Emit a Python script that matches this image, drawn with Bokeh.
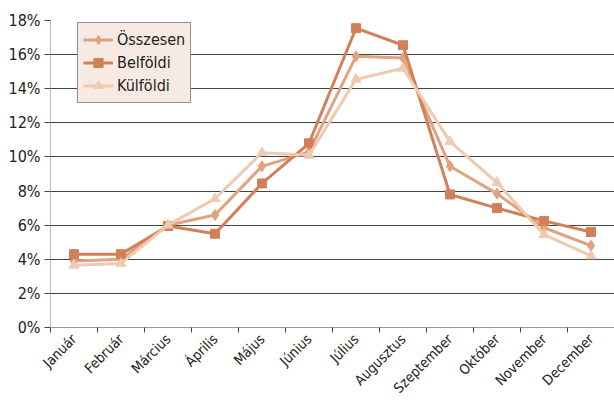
from math import pi
from bokeh.plotting import figure
from bokeh.models import FixedTicker, PrintfTickFormatter, Range1d, Legend, LegendItem
from bokeh.embed import file_html
from bokeh.resources import INLINE

months = ["Január", "Február", "Március", "Április", "Május", "Június", "Július",
          "Augusztus", "Szeptember", "Október", "November", "December"]
osszesen = [3.9, 4.0, 6.0, 6.6, 9.45, 10.3, 15.9, 15.8, 9.45, 7.85, 5.85, 4.8]
belfoldi = [4.3, 4.3, 5.95, 5.5, 8.45, 10.8, 17.55, 16.55, 7.8, 7.0, 6.25, 5.6]
kulfoldi = [3.65, 3.75, 6.0, 7.55, 10.25, 10.1, 14.55, 15.2, 10.9, 8.5, 5.45, 4.2]
y_ticks = [0, 2, 4, 6, 8, 10, 12, 14, 16, 18]

x = [i + 0.5 for i in range(len(months))]
FONT = "DejaVu Sans Condensed"

p = figure(width=614, height=404, output_backend="svg", toolbar_location=None,
           x_range=Range1d(0, 12), y_range=Range1d(0, 18),
           min_border_left=50, min_border_right=0, min_border_top=20, min_border_bottom=73)
p.outline_line_color = None
p.background_fill_color = "white"

p.xaxis.ticker = FixedTicker(ticks=x, minor_ticks=list(range(13)))
p.xaxis.major_label_overrides = {xi: m for xi, m in zip(x, months)}
p.xaxis.major_label_orientation = pi / 4
p.xaxis.major_tick_line_color = None
p.xaxis.major_tick_out = 0
p.xaxis.major_tick_in = 0
p.xaxis.minor_tick_line_color = "#444444"
p.xaxis.minor_tick_out = 5
p.xaxis.minor_tick_in = 0
p.xaxis.axis_line_color = "#999999"
p.xaxis.major_label_text_font = FONT
p.xaxis.major_label_text_font_size = "14px"
p.xaxis.major_label_text_color = "#222222"
p.xaxis.major_label_standoff = 4

p.yaxis.ticker = FixedTicker(ticks=y_ticks)
p.yaxis.formatter = PrintfTickFormatter(format="%d%%")
p.yaxis.axis_line_color = "#bbbbbb"
p.yaxis.major_tick_line_color = "#444444"
p.yaxis.major_tick_out = 6
p.yaxis.major_tick_in = 0
p.yaxis.minor_tick_line_color = None
p.yaxis.major_label_text_font = FONT
p.yaxis.major_label_text_font_size = "16px"
p.yaxis.major_label_text_color = "#222222"
p.yaxis.major_label_standoff = 4

p.xgrid.grid_line_color = None
p.ygrid.grid_line_color = "#444444"
p.ygrid.grid_line_width = 1.2

c_ossz = "#E0A27F"
c_belf = "#D2805A"
c_kulf = "#EECAB0"

r1l = p.line(x, osszesen, line_color=c_ossz, line_width=3)
r1m = p.scatter(x, osszesen, marker="diamond", size=11, fill_color=c_ossz, line_color=c_ossz)
r2l = p.line(x, belfoldi, line_color=c_belf, line_width=3)
r2m = p.scatter(x, belfoldi, marker="square", size=9, fill_color=c_belf, line_color=c_belf)
r3l = p.line(x, kulfoldi, line_color=c_kulf, line_width=3)
r3m = p.scatter(x, kulfoldi, marker="triangle", size=10, fill_color=c_kulf, line_color=c_kulf)

legend = Legend(items=[
    LegendItem(label="Összesen", renderers=[r1l, r1m]),
    LegendItem(label="Belföldi", renderers=[r2l, r2m]),
    LegendItem(label="Külföldi", renderers=[r3l, r3m]),
], location=(27, 224))
legend.background_fill_color = "#F7EAE3"
legend.background_fill_alpha = 1
legend.border_line_color = "#333333"
legend.border_line_width = 1.2
legend.label_text_font = FONT
legend.label_text_font_size = "16px"
legend.label_text_color = "#222222"
legend.glyph_width = 30
legend.label_height = 23
legend.glyph_height = 23
legend.spacing = 0
legend.padding = 5
legend.margin = 0
legend.label_standoff = 4
p.add_layout(legend, "center")

open("out.html", "w").write(file_html(p, INLINE))
